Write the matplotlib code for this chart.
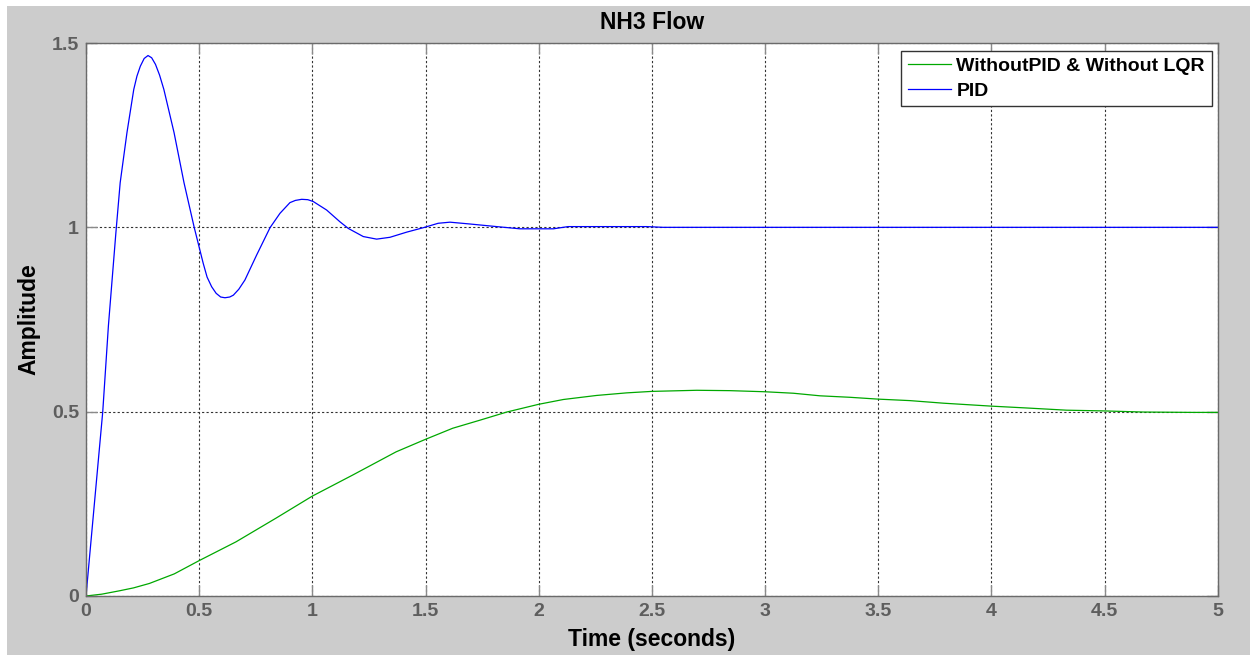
import matplotlib
matplotlib.use('Agg')
import matplotlib.pyplot as plt
from matplotlib.patches import Rectangle

plt.rcParams['font.family'] = ['Liberation Sans', 'DejaVu Sans']

# PID response
pid_t = [0, 0.037, 0.074, 0.099, 0.132, 0.151, 0.181, 0.211, 0.225, 0.240,
         0.257, 0.274, 0.290, 0.307, 0.325, 0.344, 0.389, 0.433, 0.478, 0.518,
         0.535, 0.555, 0.575, 0.595, 0.614, 0.635, 0.651, 0.675, 0.702, 0.754,
         0.813, 0.857, 0.901, 0.925, 0.953, 0.980, 1.004, 1.063, 1.122, 1.159,
         1.225, 1.284, 1.343, 1.417, 1.490, 1.556, 1.608, 1.697, 1.814, 1.917,
         2.065, 2.13, 2.477, 2.55, 5.0]
pid_v = [0, 0.25, 0.5, 0.733, 0.985, 1.121, 1.257, 1.374, 1.410, 1.437,
         1.458, 1.466, 1.460, 1.442, 1.413, 1.374, 1.257, 1.121, 1.0, 0.902,
         0.865, 0.839, 0.821, 0.811, 0.809, 0.811, 0.816, 0.832, 0.857, 0.925,
         0.999, 1.038, 1.067, 1.073, 1.076, 1.075, 1.070, 1.047, 1.015, 0.997,
         0.975, 0.968, 0.973, 0.987, 0.999, 1.011, 1.014, 1.009, 1.002, 0.996,
         0.996, 1.002, 1.002, 1.0, 1.0]

# open loop response (no PID, no LQR)
open_t = [0, 0.07, 0.147, 0.21, 0.280, 0.39, 0.5, 0.663, 0.839, 1.0,
          1.178, 1.370, 1.5, 1.62, 1.741, 1.859, 2.0, 2.109, 2.256, 2.389,
          2.5, 2.698, 2.845, 3.0, 3.125, 3.243, 3.375, 3.5, 3.640, 3.788,
          4.0, 4.156, 4.333, 4.5, 4.671, 4.892, 5.0]
open_v = [0, 0.005, 0.014, 0.022, 0.034, 0.060, 0.096, 0.147, 0.211, 0.271,
          0.328, 0.391, 0.425, 0.455, 0.477, 0.499, 0.520, 0.533, 0.544, 0.551,
          0.555, 0.558, 0.557, 0.554, 0.550, 0.543, 0.539, 0.534, 0.530, 0.523,
          0.515, 0.510, 0.504, 0.502, 0.499, 0.498, 0.498]

x_ticks = [0, 0.5, 1, 1.5, 2, 2.5, 3, 3.5, 4, 4.5, 5]
x_labels = ['0', '0.5', '1', '1.5', '2', '2.5', '3', '3.5', '4', '4.5', '5']
y_ticks = [0, 0.5, 1, 1.5]
y_labels = ['0', '0.5', '1', '1.5']

W, H = 1250, 655
fig = plt.figure(figsize=(W / 100, H / 100), dpi=100, facecolor='white')
# gray window background, thin white strip on top and left
fig.patches.append(Rectangle((7 / W, 0), 1 - 7 / W, (H - 6) / H,
                             transform=fig.transFigure, facecolor='#cccccc',
                             edgecolor='none', zorder=-10))

ax = fig.add_axes([86 / W, (H - 596) / H, (1217.7 - 86) / W, (596 - 43) / H])
ax.set_facecolor('white')

ax.plot(open_t, open_v, color='#00a800', linewidth=0.9,
        label='WithoutPID & Without LQR')
ax.plot(pid_t, pid_v, color='#0000ff', linewidth=0.9, label='PID')

ax.set_xlim(0, 5)
ax.set_ylim(0, 1.5)
ax.set_xticks(x_ticks)
ax.set_xticklabels(x_labels)
ax.set_yticks(y_ticks)
ax.set_yticklabels(y_labels)

ax.grid(True, color='#333333', linestyle=(0, (2, 2)), linewidth=0.8)
ax.tick_params(direction='in', length=8, width=1, color='#8a8a8a',
               labelcolor='#5e5e5e', labelsize=14, top=True, right=True, pad=5)
for lbl in ax.get_xticklabels() + ax.get_yticklabels():
    lbl.set_fontweight('bold')
for sp in ax.spines.values():
    sp.set_color('#6a6a6a')
    sp.set_linewidth(1.0)

ax.set_title('NH3 Flow', fontsize=16.5, fontweight='bold', pad=10)
ax.set_xlabel('Time (seconds)', fontsize=16.5, fontweight='bold', labelpad=6)
ax.set_ylabel('Amplitude', fontsize=16.5, fontweight='bold', labelpad=8)

leg = ax.legend(loc='upper right', bbox_to_anchor=(0.9947, 0.9861),
                borderaxespad=0, fancybox=False, framealpha=1,
                edgecolor='#333333', handlelength=2.2,
                handletextpad=0.3, labelspacing=0.35, borderpad=0.35,
                prop={'weight': 'bold', 'size': 14})
leg.get_frame().set_linewidth(1.0)

fig.savefig('out.png', dpi=100, facecolor=fig.get_facecolor())
